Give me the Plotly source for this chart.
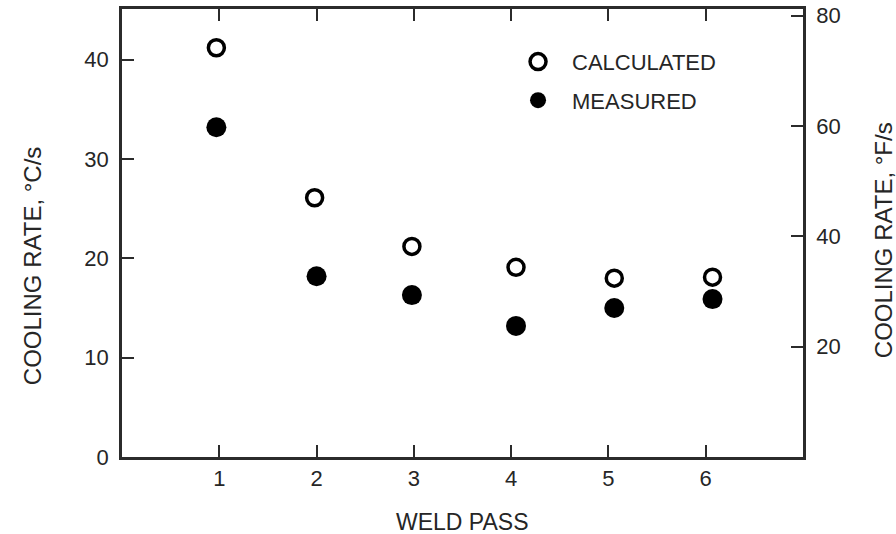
import plotly.graph_objects as go

weld_pass = [1, 2, 3, 4, 5, 6]
# horizontal positions of the plotted points
calc_x = [0.97, 1.98, 2.98, 4.05, 5.06, 6.07]
meas_x = [0.97, 2.0, 2.98, 4.05, 5.06, 6.07]
calculated = [41.2, 26.1, 21.2, 19.1, 18.0, 18.1]
measured = [33.2, 18.2, 16.3, 13.2, 15.0, 15.9]

left_ticks = [0, 10, 20, 30, 40]
right_ticks = [20, 40, 60, 80]
y_max_c = 45.1
c_to_f = 1.8

FONT = "Liberation Sans, Arial, sans-serif"
TXT = "#262626"
LINE = "#2b2b2b"

fig = go.Figure()
fig.add_trace(go.Scatter(
    x=calc_x, y=calculated, mode="markers", name="CALCULATED",
    legendgroup="a",
    marker=dict(symbol="circle-open", size=16, color="black",
                line=dict(width=3.5, color="black")),
))
fig.add_trace(go.Scatter(
    x=meas_x, y=measured, mode="markers", name="MEASURED",
    legendgroup="b",
    marker=dict(symbol="circle", size=20, color="black"),
))
# invisible trace to activate right axis
fig.add_trace(go.Scatter(x=[None], y=[None], yaxis="y2", showlegend=False,
                         hoverinfo="skip"))

fig.update_layout(
    width=896, height=534,
    margin=dict(l=122, r=93, t=9, b=77, autoexpand=False),
    paper_bgcolor="white", plot_bgcolor="white",
    font=dict(family=FONT, color=TXT, size=22),
    showlegend=True,
    legend=dict(
        x=0.561, y=0.929, xanchor="left", yanchor="top",
        bgcolor="rgba(0,0,0,0)", font=dict(size=22, color=TXT),
        traceorder="grouped", tracegroupgap=7,
        itemsizing="trace", itemwidth=58,
    ),
    xaxis=dict(
        range=[0, 7], tickvals=weld_pass, ticktext=[str(v) for v in weld_pass],
        ticks="inside", ticklen=12, tickwidth=1.5, tickcolor=LINE,
        showline=True, linecolor=LINE, linewidth=2.5, mirror="ticks",
        showgrid=False, zeroline=False, automargin=False,
        tickfont=dict(size=22, color=TXT),
    ),
    yaxis=dict(
        range=[0, y_max_c], tickvals=left_ticks,
        ticks="inside", ticklen=12, tickwidth=1.5, tickcolor=LINE,
        showline=True, linecolor=LINE, linewidth=2.5,
        showgrid=False, zeroline=False, ticklabelstandoff=6, automargin=False,
        tickfont=dict(size=22, color=TXT), ticklabeloverflow="allow",
    ),
    yaxis2=dict(
        overlaying="y", side="right",
        range=[0, y_max_c * c_to_f], tickvals=right_ticks,
        ticks="inside", ticklen=12, tickwidth=1.5, tickcolor=LINE,
        showline=True, linecolor=LINE, linewidth=2.5,
        showgrid=False, zeroline=False, ticklabelstandoff=6, automargin=False,
        tickfont=dict(size=22, color=TXT), ticklabeloverflow="allow",
    ),
    annotations=[
        dict(text="WELD PASS", xref="paper", yref="paper", x=0.5007, y=-0.145,
             yanchor="middle", xanchor="center", showarrow=False,
             font=dict(size=23, color=TXT)),
        dict(text="COOLING RATE, °C/s", xref="paper", yref="paper",
             x=0, y=0.426, xshift=-90, textangle=-90, showarrow=False,
             xanchor="center", yanchor="middle",
             font=dict(size=24, color=TXT)),
        dict(text="COOLING RATE, °F/s", xref="paper", yref="paper",
             x=1, y=0.484, xshift=80, textangle=-90, showarrow=False,
             xanchor="center", yanchor="middle",
             font=dict(size=24, color=TXT)),
    ],
)

fig.write_html(
    "out.html",
    config={"displayModeBar": False},
    post_script="document.body.style.margin='0';document.body.style.overflow='hidden';",
)
